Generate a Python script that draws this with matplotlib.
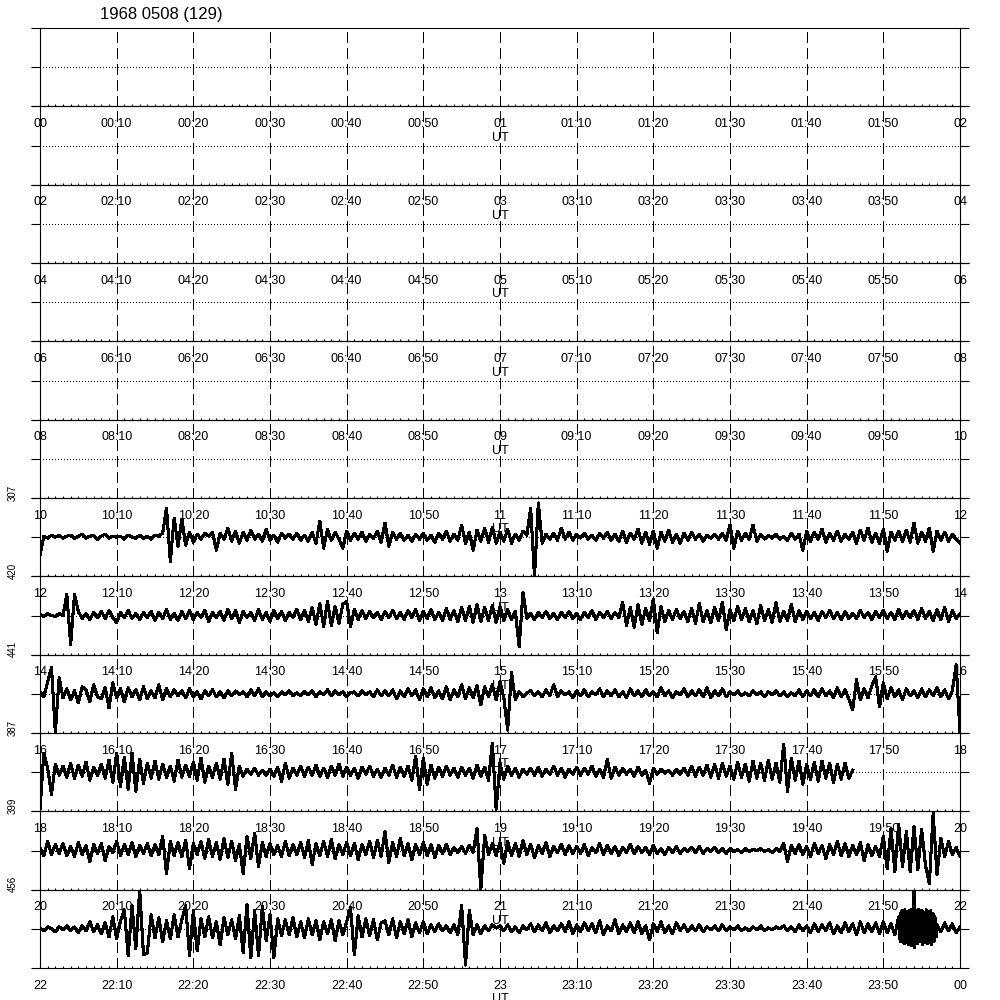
"""Helicorder-style day plot: 12 two-hour rows, traces in the afternoon/evening rows."""
import matplotlib
matplotlib.use("Agg")
import matplotlib.pyplot as plt
import numpy as np

plt.rcParams["font.family"] = ["Liberation Sans", "DejaVu Sans"]
plt.rcParams["lines.antialiased"] = False

TITLE = "1968 0508 (129)"
ROW_START_HOURS = [0, 2, 4, 6, 8, 10, 12, 14, 16, 18, 20, 22]
ROW_MINUTES = 120
SAMPLE_STEP = 0.5      # minutes between trace samples
BURST_STEP = 0.1       # finer sampling for the dense burst near 23:52

# scale labels written at the left, keyed by row index
SIDE_LABELS = {5: "307", 6: "420", 7: "441", 8: "387", 9: "399", 10: "456"}

# trace deflections (reference pixels, up positive), every 0.5 min
row6_h1 = [-18, 1, -1, 2, 0, 2, -1, 1, 2, -1,
           1, 3, -1, 1, 2, -2, 1, 3, -1, 1,
           0, 1, -2, 2, 0, -1, 2, -1, 1, -2,
           2, 1, 4, 29, -24, 19, -9, 18, -8, 5,
           -5, 3, -2, 4, 1, 5, -13, 4, -2, 9,
           -4, 6, -6, 5, -3, 7, -2, 3, -4, 8,
           -3, 2, -5, 4, -1, 3, -2, 4, -3, 2,
           -4, 5, -6, 16, -11, 8, -3, 5, -2, -11,
           6, -3, 4, -2, 5, -4, 3, -1, 6, -5,
           14, -9, 5, -2, 4, -3, 2, -4, 3, -2,
           4, -3, 2, -5, 4, -2, 6, -4, 3, -3,
           12, -6, 5, -13, 7, -4, 9, -5, 10, -6]
row6_h2 = [5, -4, 8, -6, 3, -3, 6, 2, 29, -39,
           34, -6, 3, -2, 4, -3, 9, -2, 5, -3,
           3, -1, 4, -2, 2, -3, 4, -1, 5, -3,
           3, -4, 6, -5, 4, -2, 8, -6, 5, -7,
           6, -11, 5, -4, 7, -5, 3, -6, 4, -3,
           5, -2, 3, -4, 2, -1, 3, -2, 4, -3,
           12, -11, 6, -3, 4, -2, 12, -4, 3, -2,
           2, -1, 3, -2, 1, -3, 4, -2, 3, -13,
           6, -4, 5, -2, 8, -5, 4, -3, 6, -4,
           3, -2, 5, -6, 7, -3, 9, -5, 4, -6,
           8, -14, 5, -3, 6, -4, 7, -5, 14, -6,
           5, -4, 9, -14, 6, -3, 5, -4, 3, -2,
           -6]

row7_h1 = [1, -1, 2, 0, -1, 2, 0, 21, -29, 21,
           4, -3, 2, -4, 3, -2, 4, -3, 5, -2,
           -7, 3, -2, 5, -3, 2, -4, 3, -2, 4,
           -5, 3, -3, 6, -4, 2, -5, 4, -3, 5,
           -4, 3, -2, 5, -6, 3, -2, 4, -5, 6,
           -3, 5, -7, 4, -2, 3, -5, 6, -4, 3,
           -6, 5, -3, 4, -5, 3, -2, 6, -4, 5,
           -6, 8, -9, 12, -11, 14, -10, 9, -8, 11,
           14, -11, 6, -4, 5, -3, 4, -2, 3, -4,
           4, -2, 5, -3, 3, -4, 5, -2, 6, -5,
           4, -3, 6, -4, 3, -5, 7, -4, 5, -6,
           8, -5, 9, -7, 11, -6, 8, -5, 10, -7]
row7_h2 = [9, -5, 6, -4, 4, -31, 23, -3, 2, -4,
           3, -2, 4, -3, 2, -4, 3, -2, 4, -3,
           2, -4, 3, -2, 5, -4, 3, -2, 4, -3,
           3, -2, 13, -10, 8, -12, 11, -9, 7, -5,
           16, -17, 9, -6, 5, -4, 6, -3, 4, -6,
           7, -8, 12, -6, 5, -7, 8, -5, 13, -14,
           6, -5, 9, -4, 7, -6, 5, -8, 10, -5,
           6, -7, 13, -6, 4, -5, 11, -6, 5, -4,
           4, -3, 3, -5, 4, -2, 5, -3, 3, -4,
           4, -3, 2, -3, 5, -2, 3, -4, 4, -2,
           5, -3, 3, -4, 6, -3, 4, -2, 5, -4,
           7, -3, 4, -5, 6, -4, 8, -6, 5, -3,
           2]

row8_h1 = [2, -3, 12, 26, -38, 16, -4, 5, -6, 3,
           -9, 7, 4, -8, 9, -3, -5, 6, -14, 11,
           -4, 5, -8, 6, -3, 4, -6, 7, -5, 3,
           -4, 9, -6, 5, -3, 4, -2, 3, -4, 5,
           -3, 2, -5, 3, -2, 4, -3, 2, -4, 3,
           -2, 3, -1, 2, -3, 4, -2, 5, -3, 2,
           -2, 1, -3, 2, -1, 3, -2, 1, -2, 2,
           -1, 3, -3, 2, -1, 4, -2, 3, -1, 2,
           -3, 1, 2, -2, 3, -1, 2, -3, 4, -2,
           3, -2, 4, -5, 3, -3, 5, -2, 4, -6,
           5, -3, 6, -4, 3, -5, 7, -6, 4, -3,
           9, -5, 6, -4, 8, -11, 7, -3, 9, -6]
row8_h2 = [12, -4, -36, 21, -6, 2, -3, 1, 3, -2,
           2, -3, 4, -2, 9, -3, 3, -1, 2, -4,
           3, -2, 4, -3, 2, -1, 5, -3, 3, -2,
           4, -3, 2, -4, 5, -2, 3, -3, 4, -2,
           2, -3, 6, -2, 3, -4, 2, -1, 5, -3,
           3, -2, 4, -3, 6, -4, 3, -2, 5, -3,
           2, -1, 3, -2, 1, -2, 3, -1, 2, -3,
           2, -1, 3, -2, 2, -3, 1, -2, 4, -3,
           3, -2, 4, -3, 5, -2, 3, -4, 6, -3,
           4, -5, -16, 14, -6, 5, -4, 8, 17, -13,
           11, -5, 6, -3, 4, -6, 5, -2, 3, -4,
           5, -3, 4, -2, 6, -3, 4, -5, 3, 29,
           -38]

row9_h1 = [-37, 19, 4, -22, 8, -3, 6, -5, 9, -6,
           7, -4, 10, -8, 5, -3, 8, -6, 12, -10,
           19, -14, 15, -17, 19, -19, 13, -11, 9, -6,
           11, -7, 8, -5, 6, -9, 12, -5, 7, -4,
           10, -8, 14, -10, 6, -5, 9, -7, 13, -12,
           19, -17, 6, -4, 3, -2, 4, -3, 2, -3,
           3, -4, 5, -9, 9, -6, 4, -3, 6, -4,
           5, -3, 7, -4, 4, -5, 6, -3, 8, -4,
           5, -3, 4, -6, 5, -2, 6, -4, 3, -5,
           4, -3, 7, -5, 5, -4, 6, -8, 16, -17,
           14, -12, 7, -6, 5, -4, 6, -3, 4, -5,
           5, -3, 4, -6, 7, -4, 5, -8, 29, -37]
row9_h2 = [9, -7, 6, -3, 4, -5, 3, -2, 4, -3,
           5, -4, 3, -2, 6, -3, 4, -5, 3, -2,
           5, -3, 4, -2, 6, -4, 3, -5, 13, -6,
           5, -3, 4, -2, 3, -4, 5, -3, 2, -11,
           4, -2, 3, -1, 2, -3, 3, -2, 4, -3,
           6, -4, 5, -3, 7, -5, 8, -6, 9, -4,
           6, -7, 10, -5, 8, -9, 11, -6, 9, -8,
           12, -7, 9, -10, 28, -19, 14, -8, 11, -12,
           8, -7, 10, -9, 11, -6, 9, -10, 8, -7,
           9, -6, 2]

row10_h1 = [3, -5, 9, -4, 6, -3, 7, -5, 4, -6,
            8, -4, 5, -11, 6, -3, 7, -10, 4, -2,
            9, -5, 6, -4, 8, -6, 5, -3, 7, -5,
            6, -4, 14, -23, 9, -5, 8, -6, 10, -18,
            7, -4, 9, -8, 11, -6, 8, -9, 12, -7,
            9, -10, 6, -23, 14, -8, 17, -16, 8, -6,
            7, -4, 5, -6, 9, -5, 6, -4, 8, -7,
            10, -14, 7, -5, 9, -6, 11, -8, 6, -4,
            8, -5, 7, -9, 6, -4, 9, -7, 10, -6,
            19, -12, 8, -6, 12, -5, 7, -9, 6, -4,
            8, -5, 6, -7, 5, -3, 6, -4, 3, -2,
            4, -3, 5, -2, 22, -39, 15, -4, 7, -5]
row10_h2 = [8, -13, 9, -5, 7, -6, 10, -4, 6, -7,
            5, -3, 8, -6, 4, -2, 6, -4, 5, -3,
            4, -3, 6, -5, 3, -2, 7, -4, 5, -3,
            4, -5, 3, -2, 6, -3, 4, -2, 3, -4,
            5, -3, 2, -4, 3, -2, 4, -3, 2, -1,
            3, -2, 4, -3, 2, -1, 3, -2, 2, -3,
            2, -1, 1, -2, 2, -1, 1, 0, 2, -1,
            1, -2, 2, -1, 7, -11, 5, -3, 6, -4,
            4, -6, 7, -3, 5, -8, 6, -4, 9, -5,
            7, -6, 5, -4, 8, -10, 6, -5, 4, -6,
            14, -18, 22, -21, 26, -16, 19, -21, 24, -19,
            21, -15, -33, 37, -24, 12, -6, 9, -4, 3,
            -6]

row11_h1 = [1, -2, 2, 0, -3, 2, -1, 3, -2, 2,
            -4, 3, -2, 7, -3, 4, -5, 6, -8, 12,
            -10, 8, 19, -27, 23, -20, 39, -26, -24, 14,
            -9, 11, -13, 8, -10, 14, -8, 9, 23, -27,
            18, -22, 10, -8, 12, -9, 7, -16, 11, -6,
            9, -10, 13, -24, 24, -29, 18, -27, 22, -12,
            14, -29, 10, -7, 9, -6, 11, -8, 7, -9,
            10, -6, 8, -11, 7, -5, 9, -12, 8, -6,
            7, 21, -26, 13, -8, 10, -7, 9, -11, 6,
            8, -6, 10, -9, 7, -5, 9, -8, 6, -4,
            7, -5, 4, -3, 5, -2, 3, -4, 4, -6,
            23, -36, 18, -6, 4, -5, 3, -2, 4, 1]
row11_h2 = [3, -2, 4, -3, 2, -4, 3, -1, 5, -3,
            4, -2, 6, -4, 3, -2, 5, -3, 7, -5,
            4, -3, 6, -2, 5, -4, 8, -6, 3, -2,
            9, -5, 4, -3, 6, -4, 7, -5, 3, -11,
            5, -3, 7, -4, 3, -5, 6, -2, 4, -3,
            3, -2, 4, -3, 2, -1, 3, -2, 4, -2,
            2, -1, 3, -2, 1, -2, 2, -1, 3, -2,
            1, -1, 2, 0, 3, -2, 2, -3, 4, -2,
            3, -4, 5, -3, 4, -2, 6, -5, 3, -4,
            6, -3, 5, -6, 7, -4, 5, -3, 6, -5,
            7, -4, 5, -6]
# 23:52-23:57 burst, sampled every 0.1 min
row11_burst_start = 112.0
row11_burst = [12, -10, 15, -13, 18, -12, 16, -15, 19, -11,
               17, -14, 15, -16, 18, -12, 19, -17, 16, -13,
               38, -19, 18, -14, 17, -15, 19, -12, 16, -13,
               18, -16, 17, -14, 15, -12, 19, -15, 16, -13,
               17, -14, 18, -16, 15, -13, 14, -12, 10, -8]
row11_tail_start = 117.0
row11_tail = [4, -3, 6, -2, 5, -4, 2]

TRACES = {
    6: row6_h1 + row6_h2,
    7: row7_h1 + row7_h2,
    8: row8_h1 + row8_h2,
    9: row9_h1 + row9_h2,
    10: row10_h1 + row10_h2,
}


def tick_labels(start_hour):
    labels = []
    for m in range(0, ROW_MINUTES + 1, 10):
        hh = (start_hour + m // 60) % 24
        mm = m % 60
        labels.append(f"{hh:02d}" if mm == 0 else f"{hh:02d}:{mm:02d}")
    return labels


fig = plt.figure(figsize=(10, 10), dpi=100)
left, right, top, bottom = 0.04, 0.96, 0.972, 0.032
row_h = (top - bottom) / len(ROW_START_HOURS)
half = 39

for i, start in enumerate(ROW_START_HOURS):
    ax = fig.add_axes([left, top - (i + 1) * row_h, right - left, row_h])
    ax.set_facecolor("none")
    ax.set_xlim(0, ROW_MINUTES)
    ax.set_ylim(-half, half)

    # 10-minute dashed markers and the dotted zero line
    for m in range(10, ROW_MINUTES, 10):
        ax.axvline(m, color="black", linewidth=0.8, linestyle=(0, (9, 5)), zorder=1)
    ax.axhline(0, color="black", linewidth=0.7, linestyle=(0, (1, 3)), zorder=1)

    if i in TRACES:
        vals = np.array(TRACES[i], dtype=float)
        ax.plot(np.arange(len(vals)) * SAMPLE_STEP, vals, color="black",
                linewidth=1.5, zorder=3)
    elif i == 11:
        main = np.array(row11_h1 + row11_h2, dtype=float)
        burst = np.array(row11_burst, dtype=float)
        tail = np.array(row11_tail, dtype=float)
        x = np.concatenate([np.arange(len(main)) * SAMPLE_STEP,
                            row11_burst_start + np.arange(len(burst)) * BURST_STEP,
                            row11_tail_start + np.arange(len(tail)) * SAMPLE_STEP])
        y = np.concatenate([main, burst, tail])
        ax.plot(x, y, color="black", linewidth=1.5, zorder=3)

    ax.set_xticks(np.arange(0, ROW_MINUTES + 1, 10))
    ax.set_xticks(np.arange(0, ROW_MINUTES + 1, 1), minor=True)
    ax.set_xticklabels(tick_labels(start), fontsize=9)
    ax.tick_params(axis="x", which="both", direction="in", length=1.6,
                   width=0.8, pad=8.5, top=False)
    ax.set_xlabel("UT", fontsize=9, labelpad=1)

    ax.set_yticks([-half, 0, half])
    ax.tick_params(axis="y", which="major", direction="out", length=6.5,
                   width=0.8, left=True, right=True, labelleft=False)
    for sp in ax.spines.values():
        sp.set_linewidth(0.8)

    if i in SIDE_LABELS:
        ax.text(-0.030, 0.07, SIDE_LABELS[i], transform=ax.transAxes,
                rotation=90, ha="center", va="center", fontsize=7)

fig.text(0.100, 0.985, TITLE, ha="left", va="center", fontsize=12)

fig.savefig("out.png", dpi=100)
plt.close(fig)
